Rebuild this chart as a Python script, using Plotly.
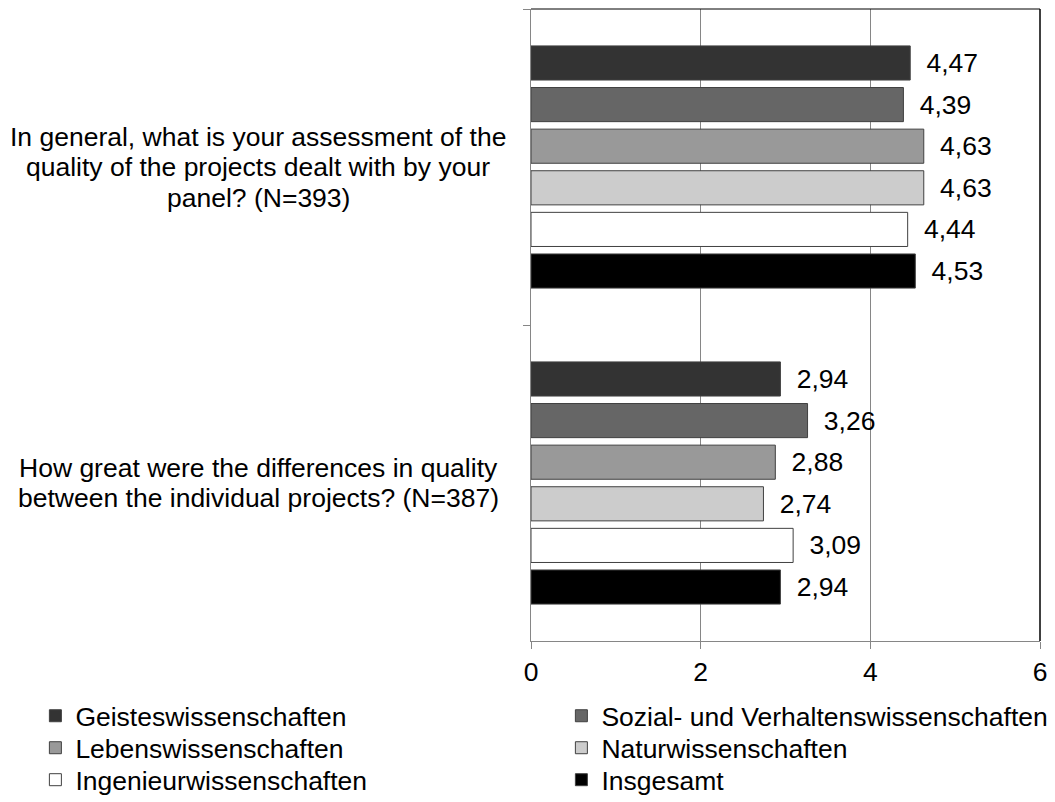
import plotly.graph_objects as go

question_lines = [
    ["In general, what is your assessment of the",
     "quality of the projects dealt with by your",
     "panel? (N=393)"],
    ["How great were the differences in quality",
     "between the individual projects? (N=387)"],
]
questions = ["Q1", "Q2"]
series_names = [
    "Geisteswissenschaften",
    "Sozial- und Verhaltenswissenschaften",
    "Lebenswissenschaften",
    "Naturwissenschaften",
    "Ingenieurwissenschaften",
    "Insgesamt",
]
geistes = [4.47, 2.94]
sozial = [4.39, 3.26]
lebens = [4.63, 2.88]
natur = [4.63, 2.74]
ingenieur = [4.44, 3.09]
insgesamt = [4.53, 2.94]
x_ticks = [0, 2, 4, 6]

values = [geistes, sozial, lebens, natur, ingenieur, insgesamt]
colors = ["#333333", "#666666", "#999999", "#cccccc", "#ffffff", "#000000"]
legend_ids = ["legend", "legend2", "legend3", "legend4", "legend5", "legend6"]

FONT = "Liberation Sans, Arial, sans-serif"
FS = 26.5

fig = go.Figure()
for name, vals, col, lg in zip(series_names, values, colors, legend_ids):
    fig.add_trace(go.Bar(
        y=questions, x=vals, name=name, orientation="h", legend=lg,
        marker=dict(color=col, line=dict(color="#404040", width=1)),
        texttemplate="\u2002%{x:.2f}", textposition="outside",
        textfont=dict(size=FS, color="#000000", family=FONT),
        cliponaxis=False,
    ))

annotations = []
LINE_H = 30.5
for q, lines in zip(questions, question_lines):
    n = len(lines)
    for i, line in enumerate(lines):
        annotations.append(dict(
            x=0, xref="paper", y=q, yref="y", xanchor="center", yanchor="middle",
            xshift=-273, yshift=((n - 1) / 2 - i) * LINE_H,
            text=line, showarrow=False,
            font=dict(size=FS, color="#000000", family=FONT),
        ))


def legend_item(xl, yc):
    return dict(
        orientation="h", x=xl, xanchor="left", y=yc, yanchor="middle",
        font=dict(size=FS, family=FONT, color="#000000"),
        itemclick=False, bgcolor="rgba(0,0,0,0)",
    )


col_x = [-0.9737, 0.0597]
row_y = [-0.1187, -0.1693, -0.2199]

fig.update_layout(
    width=1047, height=794,
    margin=dict(l=523, r=15, t=1, b=161, autoexpand=False),
    paper_bgcolor="white", plot_bgcolor="white",
    barmode="group", bargap=0.21, bargroupgap=0.18,
    separators=",.",
    font=dict(family=FONT, size=FS, color="#000000"),
    showlegend=True,
    legend=legend_item(col_x[0], row_y[0]),
    legend2=legend_item(col_x[1], row_y[0]),
    legend3=legend_item(col_x[0], row_y[1]),
    legend4=legend_item(col_x[1], row_y[1]),
    legend5=legend_item(col_x[0], row_y[2]),
    legend6=legend_item(col_x[1], row_y[2]),
    annotations=annotations,
    xaxis=dict(
        range=[0, 6], tickvals=x_ticks, ticktext=[str(t) for t in x_ticks],
        showgrid=True, gridcolor="#868686", gridwidth=1,
        showline=True, linecolor="#868686", linewidth=1,
        ticks="outside", ticklen=7, tickcolor="#868686",
        zeroline=False, tickfont=dict(size=FS, family=FONT, color="#000000"),
        automargin=False,
    ),
    yaxis=dict(
        autorange="reversed", type="category",
        showticklabels=False, showline=True, linecolor="#868686", linewidth=1,
        ticks="outside", tickson="boundaries", ticklen=7, tickcolor="#868686",
        showgrid=False, zeroline=False, automargin=False,
    ),
    shapes=[
        dict(type="line", xref="paper", yref="paper", x0=0, x1=1, y0=1, y1=1,
             line=dict(color="#000000", width=1)),
        dict(type="line", xref="paper", yref="paper", x0=1, x1=1, y0=0, y1=1,
             line=dict(color="#000000", width=1.5)),
    ],
)

fig.write_html("out.html")
